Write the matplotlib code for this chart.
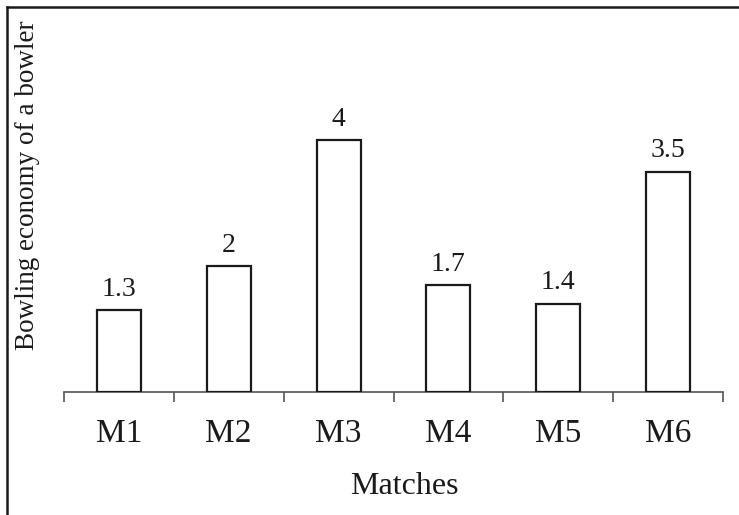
import matplotlib
matplotlib.use("Agg")
import matplotlib.pyplot as plt
from matplotlib.lines import Line2D

categories = ["M1", "M2", "M3", "M4", "M5", "M6"]
values = [1.3, 2, 4, 1.7, 1.4, 3.5]
value_labels = ["1.3", "2", "4", "1.7", "1.4", "3.5"]

plt.rcParams['font.family'] = ['Liberation Serif', 'DejaVu Serif']

W, H = 739, 515
fig = plt.figure(figsize=(W/100, H/100), dpi=100)
ax = fig.add_axes([64/W, (H-392)/H, (723-64)/W, 315/H])

x = list(range(len(categories)))
bars = ax.bar(x, values, width=0.4, color='white', edgecolor='#1a1a1a', linewidth=1.6, zorder=3)
for xi, v, lab in zip(x, values, value_labels):
    ax.annotate(lab, (xi, v), xytext=(0, 6), textcoords='offset points',
                ha='center', va='bottom', fontsize=20, color='#1a1a1a')

ax.set_xlim(-0.5, len(categories) - 0.5)
ax.set_ylim(0, 5)
for s in ['top', 'right', 'left']:
    ax.spines[s].set_visible(False)
ax.spines['bottom'].set_color('#555555')
ax.spines['bottom'].set_linewidth(1.2)
ax.set_yticks([])
ax.set_xticks([i - 0.5 for i in range(len(categories) + 1)])
ax.set_xticklabels([])
ax.set_xticks(x, minor=True)
ax.set_xticklabels(categories, minor=True, fontsize=24, color='#1a1a1a')
ax.tick_params(axis='x', which='major', length=7, color='#555555', width=1.2)
ax.tick_params(axis='x', which='minor', length=0, pad=19)

fig.text(404/W, 1 - 487/H, "Matches", ha='center', va='center', fontsize=23, color='#1a1a1a')
fig.text(28/W, 1 - 185/H, "Bowling economy of a bowler", ha='center', va='center',
         rotation=90, fontsize=19.5, color='#1a1a1a')

# figure border (top and left visible)
fig.add_artist(Line2D([7/W, 7/W], [0, 1 - 7/H], transform=fig.transFigure, color='#1a1a1a', lw=1.8))
fig.add_artist(Line2D([7/W, 1], [1 - 7/H, 1 - 7/H], transform=fig.transFigure, color='#1a1a1a', lw=1.8))

fig.savefig("out.png", dpi=100)
